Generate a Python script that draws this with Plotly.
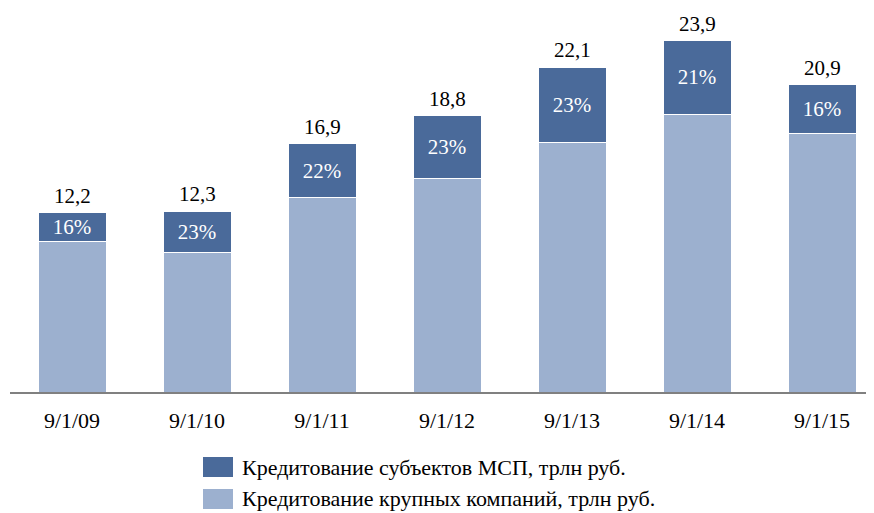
import plotly.graph_objects as go

categories = ["9/1/09", "9/1/10", "9/1/11", "9/1/12", "9/1/13", "9/1/14", "9/1/15"]
large = [10.25, 9.5, 13.2, 14.5, 17.0, 18.9, 17.6]
sme = [1.95, 2.8, 3.7, 4.3, 5.1, 5.0, 3.3]
totals = [12.2, 12.3, 16.9, 18.8, 22.1, 23.9, 20.9]
pct_labels = ["16%", "23%", "22%", "23%", "23%", "21%", "16%"]
total_labels = ["12,2", "12,3", "16,9", "18,8", "22,1", "23,9", "20,9"]
legend_names = ["Кредитование субъектов МСП, трлн руб.", "Кредитование крупных компаний, трлн руб."]

DARK = "#4A6A9A"
LIGHT = "#9CB0CF"
FONT = "Liberation Serif"

OFF = 8  # page body margin
W, H = 874 - OFF, 513 - OFF
L, R, T, B = 2, 4, 2, 121
PW, PH = W - L - R, H - T - B

x_idx = list(range(len(categories)))

fig = go.Figure()
fig.add_trace(go.Bar(
    x=x_idx, y=large, name=legend_names[1], marker_color=LIGHT,
    marker_line_color="white", marker_line_width=1, width=0.544,
))
fig.add_trace(go.Bar(
    x=x_idx, y=sme, name=legend_names[0], marker_color=DARK,
    marker_line_color="white", marker_line_width=1, width=0.544,
    text=pct_labels, textposition="inside", insidetextanchor="middle",
    constraintext="none", textangle=0,
    textfont=dict(family=FONT, size=21, color="white"),
))

annotations = []
for i, (tv, tl) in enumerate(zip(totals, total_labels)):
    annotations.append(dict(x=i, y=tv, xref="x", yref="y", text=tl, showarrow=False,
                            xanchor="center", yanchor="bottom", yshift=3,
                            font=dict(family=FONT, size=21, color="black")))

def px_x(px):
    return (px - OFF - L) / PW

def px_y(py):
    return (H - B - (py - OFF)) / PH

shapes = []
legend_rows = [(legend_names[0], DARK, 457, 477, 467), (legend_names[1], LIGHT, 489, 509, 499)]
for name, col, y0, y1, yc in legend_rows:
    shapes.append(dict(type="rect", xref="paper", yref="paper",
                       x0=px_x(203), x1=px_x(233), y0=px_y(y1), y1=px_y(y0),
                       fillcolor=col, line=dict(width=0)))
    annotations.append(dict(xref="paper", yref="paper", x=px_x(240), y=px_y(yc),
                            text=name, showarrow=False, xanchor="left", yanchor="middle",
                            font=dict(family=FONT, size=22, color="black")))

fig.update_layout(
    width=W, height=H, margin=dict(l=L, r=R, t=T, b=B),
    barmode="stack", showlegend=False,
    plot_bgcolor="white", paper_bgcolor="white",
    font=dict(family=FONT, size=21, color="black"),
    shapes=shapes, annotations=annotations,
    xaxis=dict(tickmode="array", tickvals=x_idx, ticktext=categories,
               range=[-0.496, -0.496 + PW / 125], showline=True, linecolor="#808080",
               linewidth=1.5, showgrid=False, zeroline=False, ticks="",
               ticklabelstandoff=8, tickfont=dict(family=FONT, size=22, color="black")),
    yaxis=dict(range=[0, PH / 14.7], visible=False, showgrid=False, zeroline=False),
)

fig.write_html("out.html")
